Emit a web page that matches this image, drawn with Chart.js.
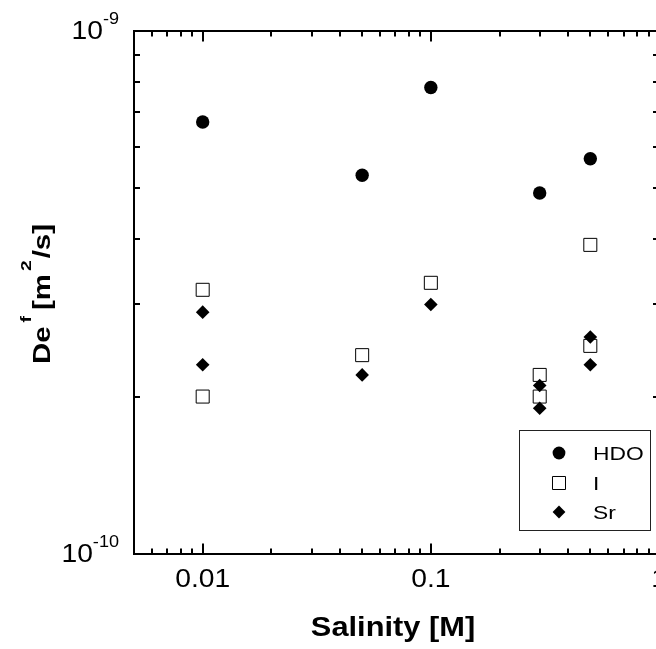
<!DOCTYPE html>
<html><head><meta charset="utf-8">
<script src="https://cdn.jsdelivr.net/npm/chart.js@4.4.0/dist/chart.umd.min.js"></script>
<style>
html,body{margin:0;padding:0;background:#fff;overflow:hidden;width:656px;height:649px}
#wrap{position:absolute;left:0;top:0;width:670px;height:649px}
canvas{display:block}
</style>
</head><body><div id="wrap"><canvas id="c" width="670" height="649"></canvas></div>
<script>
// ---- data ----
const salinityHDO = [0.01, 0.05, 0.1, 0.3, 0.5];
const hdoValues   = [6.7e-10, 5.3e-10, 7.8e-10, 4.9e-10, 5.7e-10];
const salinityI   = [0.01, 0.01, 0.05, 0.1, 0.3, 0.3, 0.5, 0.5];
const iValues     = [3.2e-10, 2.0e-10, 2.4e-10, 3.3e-10, 2.2e-10, 2.0e-10, 3.9e-10, 2.5e-10];
const salinitySr  = [0.01, 0.01, 0.05, 0.1, 0.3, 0.3, 0.5, 0.5];
const srValues    = [2.9e-10, 2.3e-10, 2.2e-10, 3.0e-10, 2.1e-10, 1.9e-10, 2.6e-10, 2.3e-10];
const seriesNames = ['HDO', 'I', 'Sr'];
const xTickLabels = ['0.01', '0.1', '1'];
const xTickValues = [0.01, 0.1, 1];
const yTickBase   = '10';
const yTickExps   = ['-10', '-9'];
const yTickValues = [1e-10, 1e-9];
const xTitle = 'Salinity [M]';

const FONT = '"Liberation Sans", Arial, Helvetica, sans-serif';
const pts = (xs, ys) => xs.map((x, i) => ({x: x, y: ys[i]}));

function textW(ctx, str, font, sx) { ctx.font = font; return ctx.measureText(str).width * sx; }
function drawText(ctx, str, font, x, y, sx, align) {
  ctx.save();
  ctx.font = font; ctx.textBaseline = 'alphabetic'; ctx.textAlign = 'left';
  const w = ctx.measureText(str).width * sx;
  const x0 = align === 'center' ? x - w / 2 : (align === 'right' ? x - w : x);
  ctx.translate(x0, y); ctx.scale(sx, 1); ctx.fillText(str, 0, 0);
  ctx.restore();
  return w;
}
function drawRich(ctx, pieces, x, y, sx, align) {
  let total = 0;
  pieces.forEach(p => { total += textW(ctx, p.t, p.font, sx) + (p.gap || 0); });
  let cx = align === 'center' ? x - total / 2 : (align === 'right' ? x - total : x);
  pieces.forEach(p => {
    const w = drawText(ctx, p.t, p.font, cx, y + (p.dy || 0), sx, 'left');
    cx += w + (p.gap || 0);
  });
}

const styles = [
  {pointStyle: 'circle',  radius: 6.7, bg: '#000', border: '#000', bw: 0},
  {pointStyle: 'rect',    radius: 9.2, bg: '#fff', border: '#000', bw: 1},
  {pointStyle: 'rectRot', radius: 6.8, bg: '#000', border: '#000', bw: 0}
];

const framePlugin = {
  id: 'frame',
  afterDraw(chart) {
    const ctx = chart.ctx, a = chart.chartArea, xs = chart.scales.x, ys = chart.scales.y;
    ctx.save();
    ctx.fillStyle = '#000';
    ctx.strokeStyle = '#000';
    ctx.lineWidth = 2;
    ctx.strokeRect(a.left, a.top, a.right - a.left, a.bottom - a.top);

    // x ticks (inward, top and bottom)
    const xt = [];
    [0.001, 0.01, 0.1].forEach(d => { for (let m = 1; m <= 9; m++) xt.push({v: m * d, major: m === 1}); });
    xt.push({v: 1, major: true});
    ctx.beginPath();
    xt.forEach(t => {
      if (t.v < xs.min - 1e-12 || t.v > xs.max + 1e-12) return;
      const px = Math.round(xs.getPixelForValue(t.v));
      const len = t.major ? 10.5 : 5.5;
      ctx.moveTo(px, a.bottom); ctx.lineTo(px, a.bottom - len);
      ctx.moveTo(px, a.top); ctx.lineTo(px, a.top + len);
    });
    // y ticks
    for (let m = 1; m <= 10; m++) {
      const py = Math.round(ys.getPixelForValue(m * 1e-10));
      ctx.moveTo(a.left, py); ctx.lineTo(a.left + 6, py);
      ctx.moveTo(a.right, py); ctx.lineTo(a.right - 6, py);
    }
    ctx.stroke();

    // x tick labels
    xTickValues.forEach((v, i) => {
      drawText(ctx, xTickLabels[i], '25px ' + FONT, xs.getPixelForValue(v), a.bottom + 33, 1.13, 'center');
    });
    // y tick labels with superscript exponent
    yTickValues.forEach((v, i) => {
      const py = ys.getPixelForValue(v);
      drawRich(ctx, [
        {t: yTickBase, font: '25px ' + FONT, dy: 8},
        {t: yTickExps[i], font: '16px ' + FONT, dy: -7}
      ], a.left - 15, py, 1.13, 'right');
    });

    // x title
    drawText(ctx, xTitle, 'bold 28px ' + FONT, 393, 636, 1.1, 'center');

    // y title (rotated)
    ctx.save();
    ctx.translate(50, 294);
    ctx.rotate(-Math.PI / 2);
    drawRich(ctx, [
      {t: 'De', font: 'bold 23px ' + FONT, dy: 0, gap: 4},
      {t: 'f', font: 'bold 15px ' + FONT, dy: -19, gap: 6},
      {t: '[m', font: 'bold 23px ' + FONT, dy: 0, gap: 3},
      {t: '2', font: 'bold 15px ' + FONT, dy: -19, gap: 2},
      {t: '/s]', font: 'bold 23px ' + FONT, dy: 0}
    ], 0, 0, 1.28, 'center');
    ctx.restore();

    // legend
    ctx.lineWidth = 1;
    ctx.strokeStyle = '#222';
    ctx.strokeRect(519.5, 430.5, 131, 100);
    const ly = [453, 483, 512];
    seriesNames.forEach((name, i) => {
      const s = styles[i];
      ctx.fillStyle = s.bg; ctx.strokeStyle = s.border; ctx.lineWidth = s.bw;
      Chart.helpers.drawPoint(ctx, {pointStyle: s.pointStyle, radius: i === 1 ? 9.2 : 6.4, rotation: 0, borderWidth: s.bw}, 559, ly[i]);
      ctx.fillStyle = '#000';
      drawText(ctx, name, '19px ' + FONT, 593, ly[i] + 7, 1.2, 'left');
    });
    ctx.restore();
  }
};

const names = seriesNames;
const ds = [pts(salinityHDO, hdoValues), pts(salinityI, iValues), pts(salinitySr, srValues)];
new Chart(document.getElementById('c'), {
  type: 'scatter',
  data: {
    datasets: ds.map((d, i) => ({
      label: names[i],
      data: d,
      showLine: false,
      pointStyle: styles[i].pointStyle,
      pointRadius: styles[i].radius,
      pointHoverRadius: styles[i].radius,
      pointBackgroundColor: styles[i].bg,
      pointBorderColor: styles[i].border,
      pointBorderWidth: styles[i].bw,
      backgroundColor: styles[i].bg,
      borderColor: styles[i].border,
      order: 2 - i
    }))
  },
  options: {
    responsive: false,
    animation: false,
    devicePixelRatio: 1,
    events: [],
    layout: {padding: {left: 134, top: 31, right: 11, bottom: 95}},
    plugins: {legend: {display: false}, tooltip: {enabled: false}, title: {display: false}},
    scales: {
      x: {type: 'logarithmic', min: 0.005, max: 1, display: false},
      y: {type: 'logarithmic', min: 1e-10, max: 1e-9, display: false}
    }
  },
  plugins: [framePlugin]
});
</script>
</body></html>
